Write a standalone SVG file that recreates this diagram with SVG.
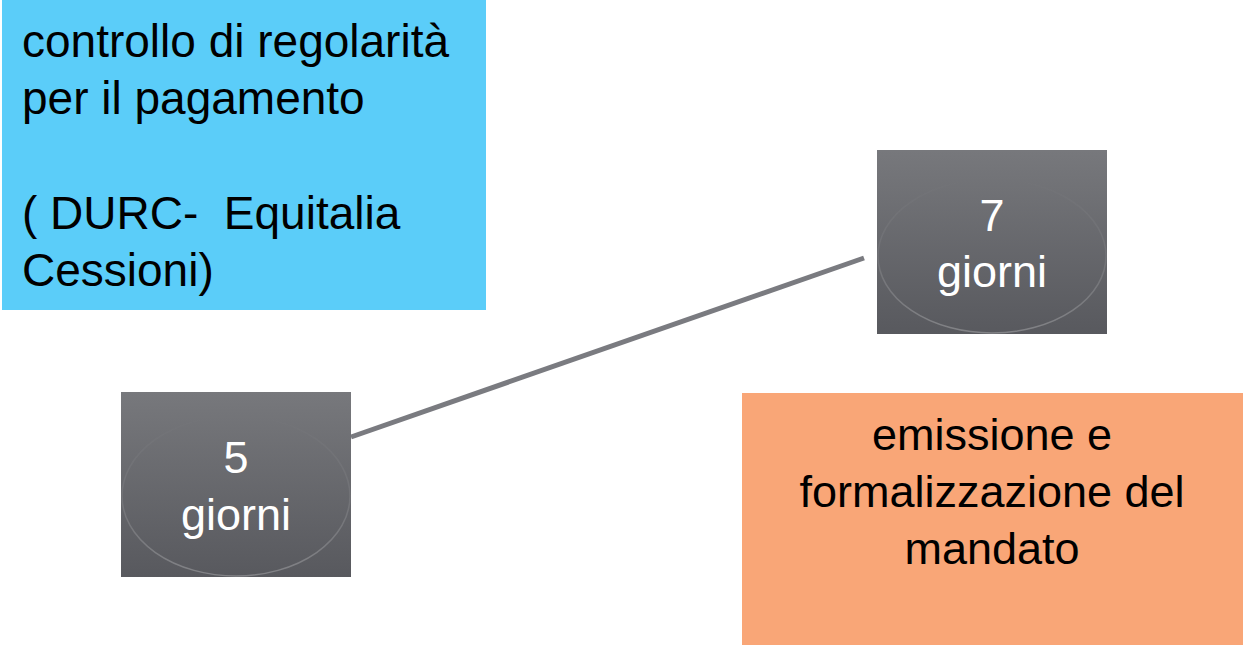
<svg xmlns="http://www.w3.org/2000/svg" width="1243" height="647" viewBox="0 0 1243 647">
<defs>
<linearGradient id="gray" x1="0" y1="0" x2="0" y2="1">
<stop offset="0" stop-color="#77787c"/>
<stop offset="1" stop-color="#58595e"/>
</linearGradient>
<linearGradient id="ring" x1="0" y1="0" x2="0" y2="1">
<stop offset="0" stop-color="#ffffff" stop-opacity="0"/>
<stop offset="0.5" stop-color="#ffffff" stop-opacity="0.08"/>
<stop offset="1" stop-color="#ffffff" stop-opacity="0.25"/>
</linearGradient>
<style>
text{font-family:"Liberation Sans",Arial,sans-serif;white-space:pre}
.dark{fill:#000;font-size:46px}
.ctr{fill:#000;font-size:45px;text-anchor:middle}
.wt{fill:#fff;font-size:45px;text-anchor:middle}
.ring{fill:none;stroke:url(#ring);stroke-width:1.5}
</style>
</defs>
<rect width="1243" height="647" fill="#fff"/>
<g id="connectors">
<line x1="351" y1="437" x2="864" y2="258" stroke="#7a7b80" stroke-width="5"/>
</g>
<g id="node-controllo">
<rect x="2" y="0" width="484" height="310" fill="#5bcdf9"/>
<text class="dark" x="22" y="57">controllo di regolarità</text>
<text class="dark" x="22" y="114">per il pagamento</text>
<text class="dark" x="22" y="229" xml:space="preserve">( DURC-  Equitalia</text>
<text class="dark" x="22" y="286">Cessioni)</text>
</g>
<g id="node-5giorni">
<rect x="121" y="392" width="230" height="185" fill="url(#gray)"/>
<ellipse class="ring" cx="236" cy="496" rx="114" ry="80"/>
<text class="wt" x="236" y="473">5</text>
<text class="wt" x="236" y="530">giorni</text>
</g>
<g id="node-7giorni">
<rect x="877" y="150" width="230" height="184" fill="url(#gray)"/>
<ellipse class="ring" cx="992" cy="256" rx="114" ry="77"/>
<text class="wt" x="992" y="231">7</text>
<text class="wt" x="992" y="287">giorni</text>
</g>
<g id="node-emissione">
<rect x="742" y="393" width="501" height="252" fill="#f9a677"/>
<text class="ctr" x="992" y="450">emissione e</text>
<text class="ctr" x="992" y="507">formalizzazione del</text>
<text class="ctr" x="992" y="564">mandato</text>
</g>
</svg>
